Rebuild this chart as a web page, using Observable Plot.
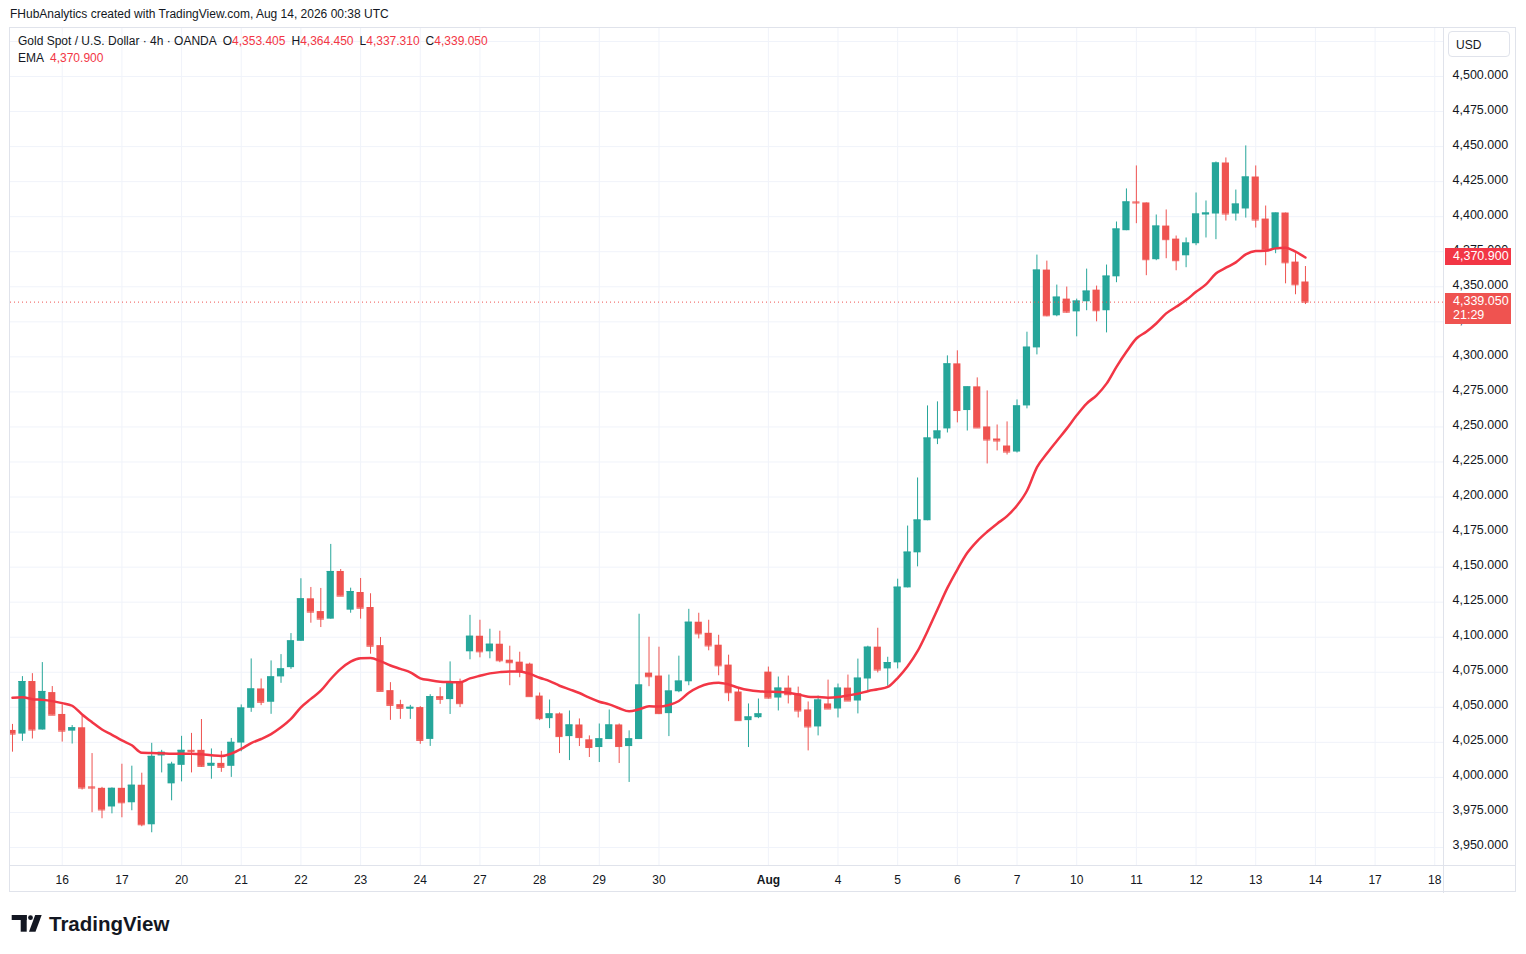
<!DOCTYPE html>
<html>
<head>
<meta charset="utf-8">
<script src="https://cdn.jsdelivr.net/npm/d3@7"></script>
<script src="https://cdn.jsdelivr.net/npm/@observablehq/plot@0.6"></script>
<style>
  html, body { margin: 0; padding: 0; background: #ffffff; }
  body { font-family: "Liberation Sans", Arial, sans-serif; color: #131722; }
  #wrap { position: relative; width: 1526px; height: 954px; overflow: hidden; }
  .abs { position: absolute; white-space: nowrap; }
  #frame { position: absolute; left: 9px; top: 27px; width: 1507px; height: 865px; border: 1px solid #e0e3eb; box-sizing: border-box; pointer-events: none; }
  #chart { position: absolute; left: 0; top: 27px; }
  .red { color: #f23645; }
  .gap { margin-left: 6px; }
  .box { position: absolute; left: 1445px; width: 66px; color: #ffffff; font-size: 12.5px; box-sizing: border-box; padding-left: 8px; }
</style>
</head>
<body>
<div id="wrap">
  <div class="abs" style="left:10px;top:6px;font-size:12px;line-height:16px;">FHubAnalytics created with TradingView.com, Aug 14, 2026 00:38 UTC</div>
  <div id="chart"></div>
  <div id="frame"></div>
  <div class="abs" id="leg1" style="left:18px;top:33px;font-size:12px;line-height:16px;"></div>
  <div class="abs" id="leg2" style="left:18px;top:50px;font-size:12px;line-height:16px;"></div>
  <div class="abs" style="left:1448px;top:31px;width:62px;height:26px;border:1px solid #e0e3eb;border-radius:4px;box-sizing:border-box;font-size:12px;line-height:26px;padding-left:7px;background:#fff;">USD</div>
  <div id="boxes"></div>
  <svg class="abs" style="left:0;top:905px;" width="200" height="40">
    <rect x="11.7" y="10" width="15" height="5" fill="#131722"/>
    <rect x="20.7" y="10" width="6" height="16.7" fill="#131722"/>
    <circle cx="30.5" cy="12.7" r="2.4" fill="#131722"/>
    <polygon points="29,26.7 35.5,26.7 41.7,10 35.2,10" fill="#131722"/>
    <text x="49" y="25.7" font-family="Liberation Sans, Arial, sans-serif" font-weight="700" font-size="20.5" fill="#131722">TradingView</text>
  </svg>
</div>
<script>
// ---- Data ----
const openV = [
4033.5,4030.9,4068.4,4033.8,4060.5,4044.9,4033.0,4035.4,3993.2,3992.2,
3978.9,3992.2,3981.9,3994.4,3966.2,4015.3,3995.4,4008.6,4019.3,4019.3,
4007.9,4010.0,4007.9,4024.5,4049.3,4063.1,4053.6,4071.7,4078.3,4097.1,
4127.4,4118.3,4112.9,4146.9,4119.3,4131.9,4121.2,4094.0,4061.9,4051.9,
4048.6,4049.8,4027.1,4057.6,4055.5,4067.5,4089.6,4100.7,4089.6,4095.0,
4083.6,4082.2,4080.8,4058.0,4041.9,4045.3,4029.1,4037.4,4026.8,4021.3,
4027.0,4037.4,4022.0,4027.0,4074.4,4072.3,4045.5,4061.1,4068.2,4110.7,
4102.8,4094.3,4080.1,4060.9,4040.5,4042.6,4075.1,4056.6,4063.7,4059.7,
4048.1,4036.0,4052.4,4048.8,4063.7,4054.5,4070.2,4092.9,4077.4,4081.7,
4135.2,4160.2,4183.1,4241.4,4248.6,4295.0,4261.7,4278.6,4250.0,4241.4,
4236.4,4232.1,4265.0,4306.4,4361.9,4329.3,4341.2,4332.1,4339.3,4347.6,
4332.9,4357.1,4390.0,4410.5,4409.8,4369.3,4393.3,4384.0,4372.1,4380.7,
4401.2,4401.9,4438.3,4401.9,4405.5,4428.3,4398.3,4376.4,4402.6,4367.6,
4353.405];
const highV = [
4037.8,4071.9,4074.0,4081.9,4064.8,4051.8,4037.0,4043.5,4017.0,3992.9,
3992.5,4009.4,4008.0,4003.0,4024.3,4019.3,4010.8,4029.3,4031.4,4041.3,
4020.3,4018.6,4027.8,4051.7,4084.5,4070.2,4083.1,4087.6,4102.6,4141.7,
4135.5,4134.8,4166.2,4148.3,4135.0,4141.9,4131.0,4099.8,4067.6,4055.0,
4051.4,4050.5,4059.0,4064.0,4082.4,4070.1,4115.6,4112.1,4105.7,4104.3,
4093.6,4089.3,4081.5,4060.2,4055.2,4046.0,4047.4,4041.7,4029.6,4038.1,
4048.1,4038.1,4033.2,4116.4,4100.0,4092.9,4073.0,4086.5,4119.9,4117.1,
4112.1,4101.4,4087.2,4063.0,4052.4,4055.9,4078.7,4071.6,4072.3,4064.4,
4053.8,4058.0,4069.4,4066.6,4073.0,4084.4,4093.6,4106.4,4085.7,4141.4,
4179.3,4213.6,4265.0,4267.9,4300.7,4304.3,4278.6,4285.0,4275.7,4251.4,
4253.6,4269.3,4317.6,4372.6,4368.3,4351.2,4349.8,4341.2,4362.6,4350.5,
4365.5,4396.2,4419.8,4436.2,4409.8,4401.2,4404.8,4386.2,4384.8,4416.9,
4411.2,4439.0,4441.9,4419.0,4450.5,4436.2,4407.6,4402.6,4402.6,4373.6,
4364.45];
const lowV = [
4018.0,4025.7,4027.4,4033.8,4044.4,4025.2,4023.8,3991.0,3974.8,3970.5,
3974.0,3971.2,3976.2,3964.8,3960.5,4003.2,3983.3,3996.8,4003.2,4007.2,
3998.7,4003.6,4000.0,4018.3,4046.4,4051.2,4045.0,4067.1,4077.1,4097.1,
4110.0,4106.9,4112.9,4129.3,4117.1,4112.9,4087.9,4061.4,4040.7,4041.4,
4041.4,4023.6,4022.1,4052.1,4044.9,4049.8,4083.9,4085.3,4084.6,4081.8,
4065.4,4071.1,4057.6,4040.5,4034.8,4017.0,4012.0,4022.0,4014.2,4010.6,
4027.0,4009.9,3996.4,4027.0,4064.7,4044.8,4029.1,4060.4,4065.4,4098.8,
4090.3,4072.5,4054.0,4040.5,4021.3,4041.9,4055.9,4047.4,4052.4,4042.4,
4018.9,4029.6,4048.8,4042.4,4054.5,4045.3,4060.8,4074.5,4065.0,4077.4,
4135.2,4150.2,4183.1,4237.4,4245.7,4252.9,4247.1,4249.3,4223.6,4232.9,
4230.0,4231.4,4262.9,4301.4,4328.6,4328.6,4331.2,4314.3,4332.9,4325.0,
4317.1,4352.9,4390.0,4395.0,4357.9,4368.6,4370.0,4361.4,4363.6,4379.3,
4384.8,4383.6,4396.9,4396.9,4399.0,4391.9,4365.0,4373.6,4352.1,4344.3,
4337.31];
const closeV = [
4030.9,4068.4,4033.8,4061.3,4044.4,4033.0,4035.4,3992.4,3992.4,3976.8,
3992.2,3981.9,3994.4,3966.2,4015.0,4017.9,4009.4,4019.3,4018.6,4007.9,
4010.0,4007.2,4025.0,4049.5,4063.1,4053.6,4071.7,4077.4,4097.4,4127.4,
4117.9,4112.9,4146.9,4129.3,4132.6,4120.7,4093.6,4061.4,4051.4,4049.3,
4050.0,4026.4,4057.6,4055.7,4067.7,4052.6,4100.7,4089.6,4095.0,4083.2,
4081.8,4075.4,4057.6,4041.9,4045.3,4029.1,4037.4,4028.4,4021.3,4027.5,
4037.4,4022.0,4027.5,4065.9,4071.8,4045.5,4061.6,4068.7,4110.7,4102.4,
4093.8,4079.6,4060.4,4040.5,4043.1,4045.3,4056.6,4063.7,4059.0,4047.4,
4036.0,4055.2,4048.8,4063.7,4054.5,4070.8,4092.9,4076.6,4081.9,4135.7,
4160.7,4183.6,4242.1,4247.1,4295.0,4261.7,4278.6,4249.3,4240.7,4240.0,
4232.1,4265.0,4306.9,4361.9,4329.3,4342.6,4331.9,4339.8,4346.9,4332.9,
4357.6,4391.2,4410.5,4409.8,4369.3,4393.3,4383.6,4368.6,4381.2,4401.9,
4402.6,4438.3,4401.9,4409.0,4428.3,4397.6,4376.4,4402.6,4367.1,4351.4,
4339.05];
const emaV = [
4056.8,4057.2,4055.8,4055.3,4054.4,4053.0,4051.1,4044.9,4039.4,4034.2,
4030.4,4026.4,4022.9,4017.6,4017.4,4017.2,4016.9,4016.9,4016.9,4016.5,
4015.8,4015.3,4017.0,4020.3,4024.5,4027.4,4030.9,4035.7,4041.7,4050.0,
4056.0,4061.9,4070.2,4077.4,4082.6,4085.0,4085.2,4082.9,4079.8,4077.4,
4075.0,4070.7,4069.3,4068.3,4068.0,4067.8,4070.6,4072.5,4074.2,4075.1,
4075.6,4075.6,4073.9,4071.1,4068.7,4065.4,4062.8,4060.2,4056.9,4054.0,
4052.1,4049.3,4047.1,4048.6,4050.7,4050.5,4051.7,4054.5,4060.4,4064.4,
4066.8,4067.5,4066.3,4064.0,4062.3,4061.4,4061.1,4060.9,4060.4,4059.2,
4057.6,4057.3,4056.9,4057.3,4058.5,4059.7,4061.5,4062.9,4064.5,4070.9,
4079.3,4090.0,4104.3,4119.8,4135.2,4148.3,4160.2,4168.6,4175.2,4181.0,
4186.4,4194.0,4204.5,4221.2,4231.0,4240.0,4248.8,4258.3,4266.7,4272.6,
4280.9,4292.9,4303.6,4313.1,4317.9,4323.8,4331.0,4335.7,4340.5,4346.4,
4351.7,4359.5,4363.6,4367.4,4373.1,4375.5,4375.7,4377.4,4377.9,4375.0,
4370.9];
const dayTickIdx   = [5,11,17,23,29,35,41,47,53,59,65,83,89,95,101,107,113,119,125,131,137,143];
const dayTickLabel = ["16","17","20","21","22","23","24","27","28","29","30","4","5","6","7","10","11","12","13","14","17","18"];
const monthTickIdx   = [76];
const monthTickLabel = ["Aug"];
const priceTicks = d3.range(3950, 4500.1, 25);
const gridPrices = d3.range(3950, 4525.1, 25);
const emaLast = 4370.900;
const countdown = "21:29";

// ---- Build ----
const UP = "#26a69a", DOWN = "#ef5350", EMA_C = "#f23645", GRID = "#f0f3fa";
const candles = openV.map((o, i) => ({i, open: o, high: highV[i], low: lowV[i], close: closeV[i], ema: emaV[i]}));
const up = candles.filter(d => d.close >= d.open);
const dn = candles.filter(d => d.close < d.open);
const allTicks = dayTickIdx.concat(monthTickIdx).map(v => ({i: v}));
const dayTicks = dayTickIdx.map((v, k) => ({i: v, label: dayTickLabel[k]}));
const monTicks = monthTickIdx.map((v, k) => ({i: v, label: monthTickLabel[k]}));
const fmt = d3.format(",.3f");
const lastClose = closeV[closeV.length - 1];
const HW = 0.36;

function candleMarks(data, color) {
  return [
    Plot.ruleX(data, {x: "i", y1: "low", y2: "high", stroke: color, strokeWidth: 1, clip: true}),
    Plot.rect(data, {x1: d => d.i - HW, x2: d => d.i + HW, y1: "open", y2: "close", fill: color, clip: true}),
    Plot.ruleY(data, {x1: d => d.i - HW, x2: d => d.i + HW, y: "close", stroke: color, strokeWidth: 1, clip: true})
  ];
}

const chart = Plot.plot({
  width: 1526,
  height: 866,
  marginLeft: 10,
  marginRight: 83,
  marginTop: 0,
  marginBottom: 28,
  x: {type: "linear", domain: [-0.2, 143.88], axis: null},
  y: {type: "linear", domain: [3937.15, 4534.96], axis: null},
  style: {fontFamily: "Liberation Sans, Arial, sans-serif", color: "#131722", background: "transparent", overflow: "visible"},
  marks: [
    Plot.ruleY(gridPrices, {y: d => d, stroke: GRID, strokeWidth: 1}),
    Plot.ruleX(allTicks, {x: "i", stroke: GRID, strokeWidth: 1}),
    ...candleMarks(up, UP),
    ...candleMarks(dn, DOWN),
    Plot.line(candles, {x: "i", y: "ema", stroke: EMA_C, strokeWidth: 2.5, curve: "monotone-x", clip: true}),
    Plot.ruleY([lastClose], {y: d => d, stroke: DOWN, strokeWidth: 1, strokeDasharray: "1,3"}),
    Plot.text(priceTicks, {y: d => d, text: d => fmt(d), frameAnchor: "right", dx: 9, dy: -2, textAnchor: "start", fontSize: 12.5, fill: "#131722"}),
    Plot.text(dayTicks, {x: "i", text: "label", frameAnchor: "bottom", dy: 15, lineAnchor: "middle", fontSize: 12, fill: "#131722"}),
    Plot.text(monTicks, {x: "i", text: "label", frameAnchor: "bottom", dy: 15, lineAnchor: "middle", fontSize: 12, fontWeight: "bold", fill: "#131722"})
  ]
});
document.getElementById("chart").appendChild(chart);

// separators of the plot area, axis panels
const sep = d3.select(chart).append("g").attr("stroke", "#e0e3eb").attr("stroke-width", 1);
sep.append("line").attr("x1", 10).attr("x2", 1516).attr("y1", 838.5).attr("y2", 838.5);
sep.append("line").attr("x1", 1443.5).attr("x2", 1443.5).attr("y1", 0).attr("y2", 866);

// legend
const o = openV[openV.length - 1], h = highV[highV.length - 1], l = lowV[lowV.length - 1], c = lastClose;
document.getElementById("leg1").innerHTML =
  'Gold Spot / U.S. Dollar · 4h · OANDA' +
  '<span class="gap">O</span><span class="red">' + fmt(o) + '</span>' +
  '<span class="gap">H</span><span class="red">' + fmt(h) + '</span>' +
  '<span class="gap">L</span><span class="red">' + fmt(l) + '</span>' +
  '<span class="gap">C</span><span class="red">' + fmt(c) + '</span>';
document.getElementById("leg2").innerHTML = 'EMA<span class="red gap">' + fmt(emaLast) + '</span>';

// price boxes on the right axis, placed through the chart's y scale
const ys = chart.scale("y");
const top0 = 27;
const boxes = document.getElementById("boxes");
const yEma = top0 + ys.apply(emaLast);
const b1 = document.createElement("div");
b1.className = "box";
b1.style.cssText += `top:${yEma - 8.5}px;height:17px;line-height:17px;background:${EMA_C};`;
b1.textContent = fmt(emaLast);
boxes.appendChild(b1);
const yLast = top0 + ys.apply(lastClose);
const b2 = document.createElement("div");
b2.className = "box";
b2.style.cssText += `top:${yLast - 9}px;height:31px;line-height:14px;padding-top:1px;background:${DOWN};`;
b2.innerHTML = fmt(lastClose) + "<br>" + countdown;
boxes.appendChild(b2);
</script>
</body>
</html>
